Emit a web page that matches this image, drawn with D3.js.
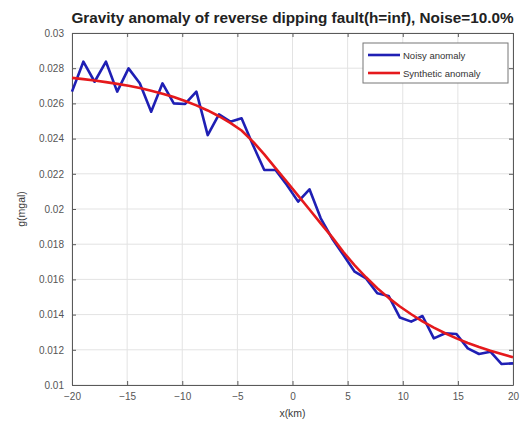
<!DOCTYPE html>
<html><head><meta charset="utf-8">
<script src="https://cdn.jsdelivr.net/npm/d3@7"></script>
<style>body{margin:0;background:#fff}svg{display:block}</style>
</head><body>
<script>
const xValues = [-20.00,-18.97,-17.95,-16.92,-15.90,-14.87,-13.85,-12.82,-11.79,-10.77,-9.74,-8.72,-7.69,-6.67,-5.64,-4.62,-3.59,-2.56,-1.54,-0.51,0.51,1.54,2.56,3.59,4.62,5.64,6.67,7.69,8.72,9.74,10.77,11.79,12.82,13.85,14.87,15.90,16.92,17.95,18.97,20.00];
const noisy = [0.02667,0.02837,0.02723,0.02837,0.02667,0.02799,0.02714,0.02553,0.02714,0.02600,0.02597,0.02667,0.02420,0.02538,0.02496,0.02515,0.02364,0.02222,0.02222,0.02136,0.02042,0.02112,0.01947,0.01833,0.01739,0.01644,0.01606,0.01521,0.01506,0.01383,0.01360,0.01392,0.01265,0.01294,0.01290,0.01208,0.01176,0.01189,0.01119,0.01123];
const synthetic = [0.02745,0.02738,0.02730,0.02721,0.02711,0.02700,0.02687,0.02672,0.02655,0.02636,0.02614,0.02589,0.02560,0.02527,0.02489,0.02446,0.02383,0.02310,0.02232,0.02155,0.02076,0.01997,0.01918,0.01840,0.01755,0.01680,0.01612,0.01550,0.01495,0.01446,0.01402,0.01362,0.01326,0.01294,0.01265,0.01239,0.01216,0.01195,0.01176,0.01158];
const xTicks = [-20,-15,-10,-5,0,5,10,15,20];
const yTicks = [0.01,0.012,0.014,0.016,0.018,0.02,0.022,0.024,0.026,0.028,0.03];
const yTickLabels = ["0.01","0.012","0.014","0.016","0.018","0.02","0.022","0.024","0.026","0.028","0.03"];
const seriesNames = ["Noisy anomaly","Synthetic anomaly"];
const titleText = "Gravity anomaly of reverse dipping fault(h=inf), Noise=10.0%";

const W = 531, H = 430;
const m = {left:72, right:18, top:33, bottom:45};
const svg = d3.select("body").append("svg").attr("width",W).attr("height",H)
  .style("font-family","'Liberation Sans', Arial, sans-serif");
const x = d3.scaleLinear().domain([-20,20]).range([m.left, W-m.right]);
const y = d3.scaleLinear().domain([0.01,0.03]).range([H-m.bottom, m.top]);

// grid
const g = svg.append("g");
g.selectAll(".gx").data(xTicks).join("line")
  .attr("x1",d=>x(d)).attr("x2",d=>x(d)).attr("y1",m.top).attr("y2",H-m.bottom)
  .attr("stroke","#e3e3e3").attr("stroke-width",1);
g.selectAll(".gy").data(yTicks).join("line")
  .attr("y1",d=>y(d)).attr("y2",d=>y(d)).attr("x1",m.left).attr("x2",W-m.right)
  .attr("stroke","#e3e3e3").attr("stroke-width",1);

// axes
const axCol = "#5a5a5a";
const xAxis = d3.axisBottom(x).tickValues(xTicks).tickSizeInner(-4).tickSizeOuter(0).tickPadding(8).tickFormat(d3.format("d"));
const xAxisTop = d3.axisTop(x).tickValues(xTicks).tickSizeInner(-4).tickSizeOuter(0).tickFormat("");
const yAxis = d3.axisLeft(y).tickValues(yTicks).tickSizeInner(-4).tickSizeOuter(0).tickPadding(8).tickFormat((d,i)=>yTickLabels[i]);
const yAxisR = d3.axisRight(y).tickValues(yTicks).tickSizeInner(-4).tickSizeOuter(0).tickFormat("");
function style(sel){
  sel.selectAll("path").attr("stroke",axCol);
  sel.selectAll("line").attr("stroke",axCol);
  sel.selectAll("text").attr("fill","#555").style("font-size","10px").style("font-family","'Liberation Sans', Arial, sans-serif");
}
svg.append("g").attr("transform",`translate(0,${H-m.bottom})`).call(xAxis).call(style);
svg.append("g").attr("transform",`translate(0,${m.top})`).call(xAxisTop).call(style);
svg.append("g").attr("transform",`translate(${m.left},0)`).call(yAxis).call(style);
svg.append("g").attr("transform",`translate(${W-m.right},0)`).call(yAxisR).call(style);

// lines
const line = d3.line().x((d,i)=>x(xValues[i])).y(d=>y(d));
svg.append("path").datum(noisy).attr("d",line).attr("fill","none")
  .attr("stroke","#1f1fb4").attr("stroke-width",2.6).attr("stroke-linejoin","round");
svg.append("path").datum(synthetic).attr("d",line).attr("fill","none")
  .attr("stroke","#e5191c").attr("stroke-width",2.6).attr("stroke-linejoin","round");

// title
const t = svg.append("text").attr("x",(m.left+W-m.right)/2).attr("y",23)
  .attr("text-anchor","middle").attr("font-weight","bold").attr("fill","#222")
  .style("font-size","12px").text(titleText);
const tl = t.node().getComputedTextLength();
t.style("font-size",(12*442/tl).toFixed(2)+"px");

// axis labels
svg.append("text").attr("x",(m.left+W-m.right)/2).attr("y",417).attr("text-anchor","middle")
  .attr("fill","#3a3a3a").style("font-size","10.5px").text("x(km)");
svg.append("text").attr("transform",`translate(25,${(m.top+H-m.bottom)/2}) rotate(-90)`)
  .attr("text-anchor","middle").attr("fill","#3a3a3a").style("font-size","10.5px").text("g(mgal)");

// legend
const lg = svg.append("g").attr("transform","translate(363,43)");
lg.append("rect").attr("width",145).attr("height",40).attr("fill","#fff").attr("stroke","#777").attr("stroke-width",1);
const cols = ["#1f1fb4","#e5191c"];
seriesNames.forEach((s,i)=>{
  const yy = 12 + i*18;
  lg.append("line").attr("x1",5).attr("x2",37).attr("y1",yy).attr("y2",yy).attr("stroke",cols[i]).attr("stroke-width",2.6);
  lg.append("text").attr("x",40).attr("y",yy+3.5).attr("fill","#333").style("font-size","9.5px").text(s);
});
</script>
</body></html>
